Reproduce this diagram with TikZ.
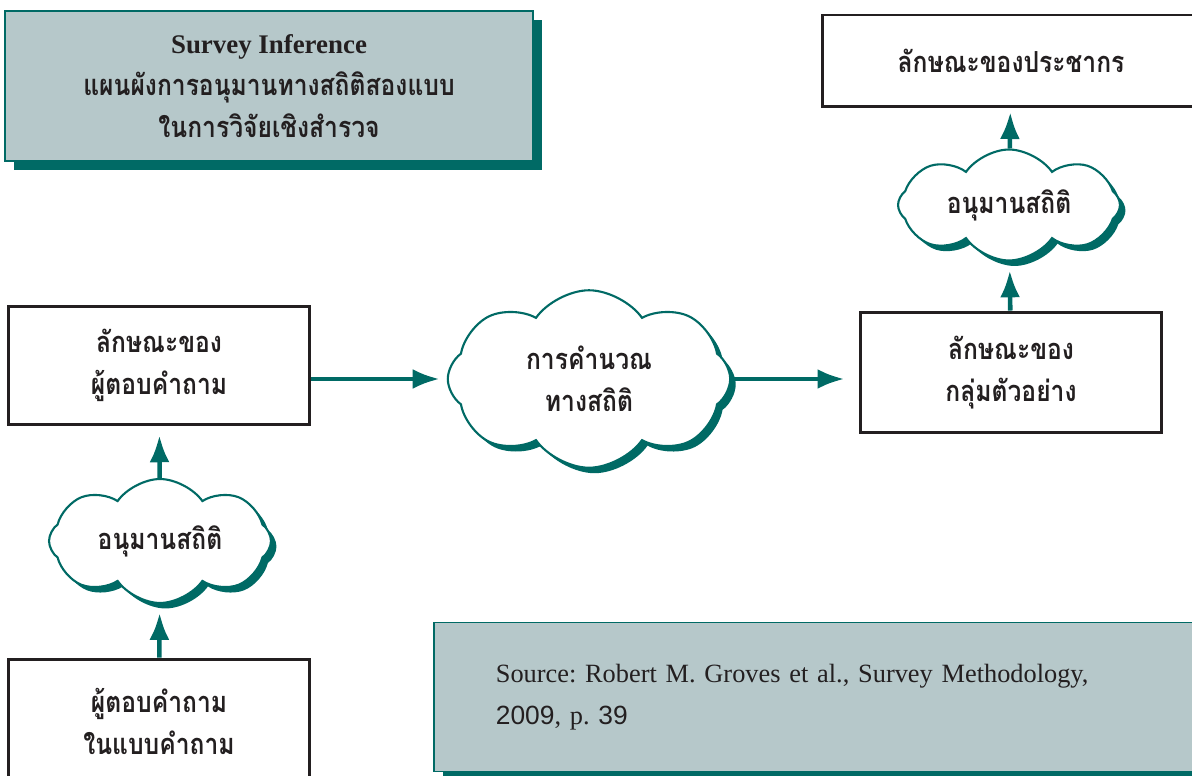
\documentclass[tikz,border=0pt]{standalone}
\usepackage{fontspec}
\newfontfamily\thaifont[Script=Thai, FakeStretch=0.85]{Loma}
\newfontfamily\titlefont{Liberation Serif}
\newfontfamily\srcfont{Liberation Serif}
\newfontfamily\srcdigits{Liberation Sans}
\usepackage{tikz}
\usetikzlibrary{positioning,shapes,shapes.symbols,arrows.meta,shadows,calc}
\definecolor{teal1}{RGB}{0,106,101}
\definecolor{gray1}{RGB}{182,200,202}
\definecolor{ink}{RGB}{35,31,32}
\newcommand{\thaitext}{\thaifont\bfseries\fontsize{16.5}{24}\selectfont}
\tikzstyle{box1} = [rectangle, draw=ink, line width=1.7pt, fill=white, %
   text=ink, align=center, font=\thaitext]
\tikzstyle{box2} = [rectangle, draw=teal1, line width=1pt, fill=gray1, text=ink, %
   drop shadow={shadow xshift=0.18cm, shadow yshift=-0.18cm, fill=teal1, opacity=1}]
\tikzstyle{cloud1} = [cloud, cloud puffs=8, cloud puff arc=110, cloud ignores aspect, %
   draw=teal1, line width=1.2pt, fill=white, text=ink, align=center, font=\thaitext, %
   inner sep=0pt, drop shadow={shadow xshift=0.11cm, shadow yshift=-0.11cm, fill=teal1, opacity=1}]
\tikzstyle{line} = [draw, teal1, line width=2.6pt, -{Latex[length=5.4mm,width=4mm]}]

\begin{document}
\frenchspacing
\begin{tikzpicture}[x=0.02cm, y=-0.02cm]
      \useasboundingbox (0,0) rectangle (1192,776);

      % Place nodes
      % TITLE %%%%%%%%%%%%%%%%%%%%%%%%%%%%%%%%%%%%%%%%%%%%%%%%%%
         \node[box2, minimum width=10.56cm, minimum height=3cm, align=center, font=\thaitext](title) at (269,86){%
            {\titlefont\bfseries\fontsize{15.3}{24}\selectfont Survey Inference}\\
            แผนผังการอนุมานทางสถิติสองแบบ\\
            ในการวิจัยเชิงสำรวจ};

      % LEFT SPINE %%%%%%%%%%%%%%%%%%%%%%%%%%%%%%%%%%%%%%%%%%%%%
         \node[box1, minimum width=6.04cm, minimum height=2.38cm](resp) at (159,365.5){%
            ลักษณะของ\\ ผู้ตอบคำถาม};
         \node[cloud1, minimum width=4.44cm, minimum height=2.48cm](infer1) at (160,541){อนุมานสถิติ};
         \node[box1, minimum width=6.04cm, minimum height=2.5cm](quest) at (159,721.5){%
            ผู้ตอบคำถาม\\ ในแบบคำถาม};

      % MIDDLE %%%%%%%%%%%%%%%%%%%%%%%%%%%%%%%%%%%%%%%%%%%%%%%%%
         \node[cloud1, minimum width=5.65cm, minimum height=3.55cm](calc) at (589,379){%
            การคำนวณ\\ ทางสถิติ};

      % RIGHT SPINE %%%%%%%%%%%%%%%%%%%%%%%%%%%%%%%%%%%%%%%%%%%%
         \node[box1, minimum width=6.04cm, minimum height=2.42cm](sample) at (1011,372.5){%
            ลักษณะของ\\ กลุ่มตัวอย่าง};
         \node[cloud1, minimum width=4.44cm, minimum height=2.22cm](infer2) at (1009,205){อนุมานสถิติ};
         \node[box1, minimum width=7.56cm, minimum height=1.84cm](pop) at (1011,61){%
            ลักษณะของประชากร};

      % SOURCE %%%%%%%%%%%%%%%%%%%%%%%%%%%%%%%%%%%%%%%%%%%%%%%%%
         \node[box2, anchor=west, minimum width=15.32cm, minimum height=2.98cm, text width=12.84cm, %
            inner xsep=1.24cm, align=left, font=\srcfont\fontsize{15}{24}\selectfont](source) at (433,697){%
            Source: Robert M. Groves et al., Survey Methodology,\\ {\srcdigits 2009}, p. {\srcdigits 39}};

      % Draw edges
         \path [line, shorten >=5pt] (quest) -- (infer1);
         \path [line, shorten >=5pt] (infer1) -- (resp);
         \path [line, shorten >=4pt] (resp.east |- calc.west) -- (calc.west);
         \path [line, shorten >=8pt] (calc.east) -- (calc.east -| sample.west);
         \path [line, shorten >=5pt] (sample) -- (infer2);
         \path [line, shorten >=2pt] (infer2) -- (pop);
      \end{tikzpicture}
\end{document}
